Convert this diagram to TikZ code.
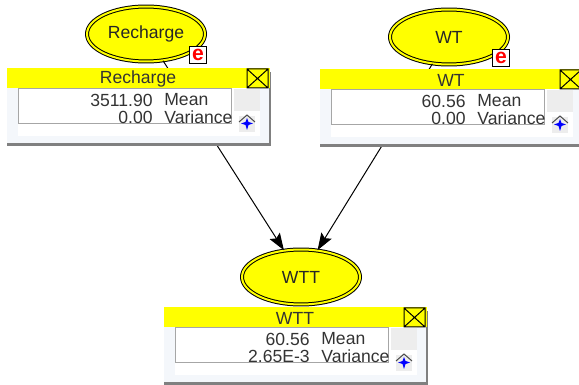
\documentclass[tikz,border=0pt]{standalone}
\usepackage{fontspec}
\setmainfont{Liberation Sans}
\usetikzlibrary{arrows.meta, shapes.geometric}

\definecolor{nodeyellow}{RGB}{255,255,0}
\definecolor{panelblue}{RGB}{244,247,251}
\definecolor{starblue}{RGB}{0,0,255}
\definecolor{markred}{RGB}{255,0,0}

\tikzset{
    chance/.style={ellipse, draw=black, fill=nodeyellow, double=nodeyellow, double distance=0.4mm,
        line width=0.2mm, inner sep=0pt, minimum width=23.6mm, minimum height=11mm,
        font=\fontsize{10}{12}\selectfont, text=black!85},
    link/.style={-{Stealth[length=3.4mm,width=2.4mm,inset=0.6mm]}, line width=0.2mm, black},
    evidence/.style={draw=black, line width=0.2mm, fill=white, inner sep=0pt,
        minimum width=3.4mm, minimum height=3.4mm, text=markred,
        font=\fontsize{12}{12}\selectfont\bfseries},
    paneltext/.style={inner sep=0pt, font=\fontsize{10}{12}\selectfont, text=black!80}
}

\begin{document}
\begin{tikzpicture}[x=0.02cm, y=-0.02cm]
    \useasboundingbox (0,0) rectangle (579,385);

    % Draw the chance nodes
    \node[chance] (Recharge) at (146,34) {Recharge};
    \node[chance] (WT) at (449,37) {WT};
    \node[chance] (WTT) at (301,277) {WTT};

    % Draw the links, the panels lie on top of them
    \draw[link] (Recharge) -- (WTT);
    \draw[link] (WT) -- (WTT);

    % Draw the panels
    \foreach \name/\px/\py/\mean/\var in {Recharge/7/68/3511.90/0.00, WT/320/69/60.56/0.00, WTT/164/307/60.56/2.65E-3} {
        \begin{scope}[shift={(\px,\py)}]
            % body and shadow
            \fill[black!50] (0,4) rectangle (264,78);
            \fill[panelblue] (0,4) rectangle (262,75);
            \fill[white] (11,20) rectangle (253,68);
            % title bar
            \fill[nodeyellow] (0,0) rectangle (263,20);
            \node[paneltext] (title\name) at (131,11) {\name};
            % close box
            \draw[black, line width=0.2mm] (240,1) rectangle (261,20) (240,1) -- (261,20) (240,20) -- (261,1);
            % value box
            \draw[black!35, fill=white, line width=0.2mm] (11,21) rectangle (224,56);
            \fill[black!7] (227,21) rectangle (253,43);
            \node[paneltext, anchor=east] (mean\name) at (146,32) {\mean};
            \node[paneltext, anchor=west] (meanlabel\name) at (157,32) {Mean};
            \node[paneltext, anchor=east] (var\name) at (146,49) {\var};
            \node[paneltext, anchor=west] (varlabel\name) at (157,49) {Variance};
            % scroll button
            \fill[black!7] (232,48) rectangle (248,64);
            \draw[black!70, line width=0.2mm] (232,54) -- (240,47) -- (248,54);
            \fill[starblue] (240,50) -- (241.5,54) -- (246,55.5) -- (241.5,57) -- (240,62) -- (238.5,57) -- (234,55.5) -- (238.5,54) -- cycle;
        \end{scope}
    }

    % Draw the evidence marks
    \node[evidence] (eRecharge) at (198,55) {e};
    \node[evidence] (eWT) at (501,58) {e};

\end{tikzpicture}
\end{document}
